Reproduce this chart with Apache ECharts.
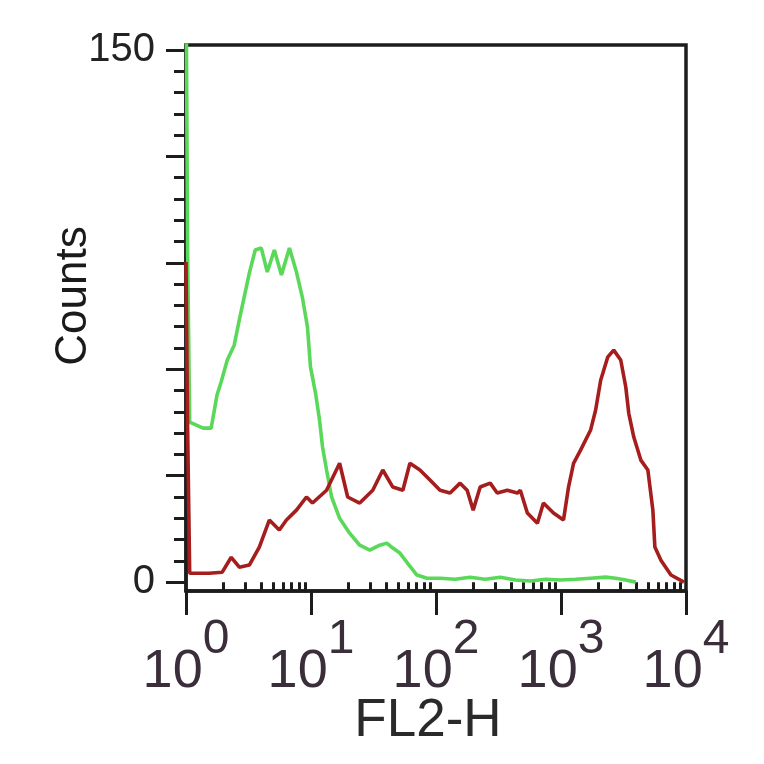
<!DOCTYPE html>
<html><head><meta charset="utf-8">
<script src="https://cdn.jsdelivr.net/npm/echarts@6/dist/echarts.min.js"></script>
<style>html,body{margin:0;padding:0;background:#fff}#c{width:764px;height:764px}</style>
</head><body><div id="c"></div>
<script>
// Isotype control (green) — FL2-H values and counts
const greenX = [1, 1.03, 1.07, 1.37, 1.59, 1.77, 1.91, 2.14, 2.43, 2.67, 2.92, 3.21, 3.58, 4.00, 4.47, 5.09, 5.80, 6.72, 7.65, 8.55, 9.37, 9.91, 10.87, 11.70, 12.37, 13.32, 14.61, 16.94, 20.38, 24.53, 29.50, 35.50, 40.41, 45.14, 51.39, 58.50, 70.39, 84.70, 107.7, 142.1, 187.6, 247.5, 326.7, 431.0, 568.9, 750.7, 990.8, 1308, 1726, 2278, 2741, 3297, 3966];
const greenY = [175, 92.8, 45.1, 43.4, 43.4, 52.7, 56.4, 62.6, 66.8, 73.9, 80.3, 87.1, 93.6, 94.2, 87.4, 93.6, 86.6, 94.2, 87.4, 80.1, 71.9, 60.6, 53.3, 45.7, 38.1, 31.6, 24.0, 18.0, 13.8, 10.4, 9.0, 10.4, 11.0, 9.6, 8.2, 5.6, 2.0, 1.1, 1.1, 0.8, 1.4, 0.8, 1.4, 0.6, 0.3, 0.8, 0.6, 0.8, 1.1, 1.4, 1.1, 0.6, 0];
// Sample (red)
const redX = [1, 1.03, 1.07, 1.53, 1.95, 2.30, 2.67, 3.21, 3.86, 4.64, 5.58, 6.36, 7.65, 9.20, 10.28, 13.32, 16.94, 19.65, 24.53, 31.19, 37.53, 45.14, 54.31, 61.83, 74.38, 89.50, 107.7, 129.5, 155.9, 177.5, 198.3, 225.6, 271.4, 309.0, 371.7, 447.3, 472.8, 538.2, 647.5, 723.5, 870.9, 1047, 1149, 1260, 1434, 1726, 1893, 2077, 2363, 2641, 3005, 3297, 3485, 3822, 4351, 4953, 5431, 5636, 6300, 7577, 9636];
const redY = [90.2, 43.7, 2.5, 2.5, 2.8, 7.0, 4.2, 4.8, 9.9, 17.5, 14.7, 17.5, 20.3, 24.0, 22.3, 25.9, 33.5, 24.0, 22.3, 25.9, 31.6, 26.8, 25.9, 33.5, 31.6, 28.8, 25.9, 25.1, 27.9, 25.9, 20.3, 26.8, 27.9, 25.1, 25.9, 25.1, 25.9, 19.5, 16.6, 22.3, 19.5, 17.5, 26.8, 33.5, 37.2, 42.9, 48.5, 56.9, 63.4, 65.4, 62.6, 55.0, 47.6, 40.9, 34.4, 31.6, 20.3, 9.9, 6.2, 2.0, 0];

const xMajorTicks = [1, 10, 100, 1000, 10000];
const xMinorTicks = [2, 3, 4, 5, 6, 7, 8, 9, 20, 30, 40, 50, 60, 70, 80, 90, 200, 300, 400, 500, 600, 700, 800, 900, 2000, 3000, 4000, 5000, 6000, 7000, 8000, 9000];
const yLabelValues = [0, 150];
const yMajorTicks = [0, 30, 60, 90, 120, 150];
const yMinorTicks = [0, 6, 12, 18, 24, 30, 36, 42, 48, 54, 60, 66, 72, 78, 84, 90, 96, 102, 108, 114, 120, 126, 132, 138, 144, 150];

const font = "'Liberation Sans', Arial, sans-serif";
const ink = '#1c1c1c';
const labInk = '#3a2e3a';

const chart = echarts.init(document.getElementById('c'), null, {renderer: 'canvas'});
const yBase = {type: 'value', min: -2.5, max: 151.4, position: 'left', splitLine: {show: false}};
const xBase = {type: 'log', logBase: 10, min: 1, max: 10000, position: 'bottom', splitLine: {show: false}, minorTick: {show: false}};
chart.setOption({
  animation: false,
  backgroundColor: '#ffffff',
  grid: {left: 186, top: 45, width: 500, height: 546, show: true, borderColor: ink, borderWidth: 3.5, backgroundColor: 'transparent'},
  xAxis: [
    Object.assign({}, xBase, {
      axisLine: {show: true, onZero: false, lineStyle: {color: ink, width: 3.5}},
      axisTick: {show: true, customValues: xMajorTicks, length: 24, lineStyle: {color: ink, width: 3}},
      axisLabel: {
        customValues: xMajorTicks, margin: 25,
        formatter: v => '{b|10}{s|' + Math.round(Math.log10(v)) + '}',
        rich: {
          b: {fontSize: 54, fontFamily: font, color: labInk, verticalAlign: 'bottom', lineHeight: 83},
          s: {fontSize: 48, fontFamily: font, color: labInk, verticalAlign: 'top', lineHeight: 83}
        }
      },
      name: 'FL2-H', nameLocation: 'middle', nameGap: 104, nameMoveOverlap: false,
      nameTextStyle: {fontSize: 53, fontFamily: font, color: '#2a2a2a', padding: [0, 16, 0, 0]}
    }),
    Object.assign({}, xBase, {
      axisLine: {show: false},
      axisTick: {show: true, customValues: xMinorTicks, length: 10, lineStyle: {color: ink, width: 3}},
      axisLabel: {show: false}
    })
  ],
  yAxis: [
    Object.assign({}, yBase, {
      axisLine: {show: true, onZero: false, lineStyle: {color: ink, width: 3.5}},
      axisTick: {show: true, customValues: yMajorTicks, length: 20, lineStyle: {color: ink, width: 3}},
      axisLabel: {customValues: yLabelValues, margin: 31, fontSize: 40, fontFamily: font, color: '#222'},
      name: 'Counts', nameLocation: 'middle', nameGap: 90, nameRotate: 90, nameMoveOverlap: false,
      nameTextStyle: {fontSize: 44, fontFamily: font, color: '#1a1a1a', padding: [0, 0, 0, 44]}
    }),
    Object.assign({}, yBase, {
      axisLine: {show: false},
      axisTick: {show: true, customValues: yMinorTicks, length: 12, lineStyle: {color: ink, width: 3}},
      axisLabel: {show: false}
    })
  ],
  series: [
    {type: 'line', name: 'control', xAxisIndex: 0, yAxisIndex: 0, showSymbol: false, clip: true,
     data: greenX.map((x, i) => [x, greenY[i]]), lineStyle: {color: '#5ad85a', width: 3.6}, z: 2},
    {type: 'line', name: 'sample', xAxisIndex: 0, yAxisIndex: 0, showSymbol: false, clip: true,
     data: redX.map((x, i) => [x, redY[i]]), lineStyle: {color: '#a51d1d', width: 3.6}, z: 3}
  ]
});
</script></body></html>
